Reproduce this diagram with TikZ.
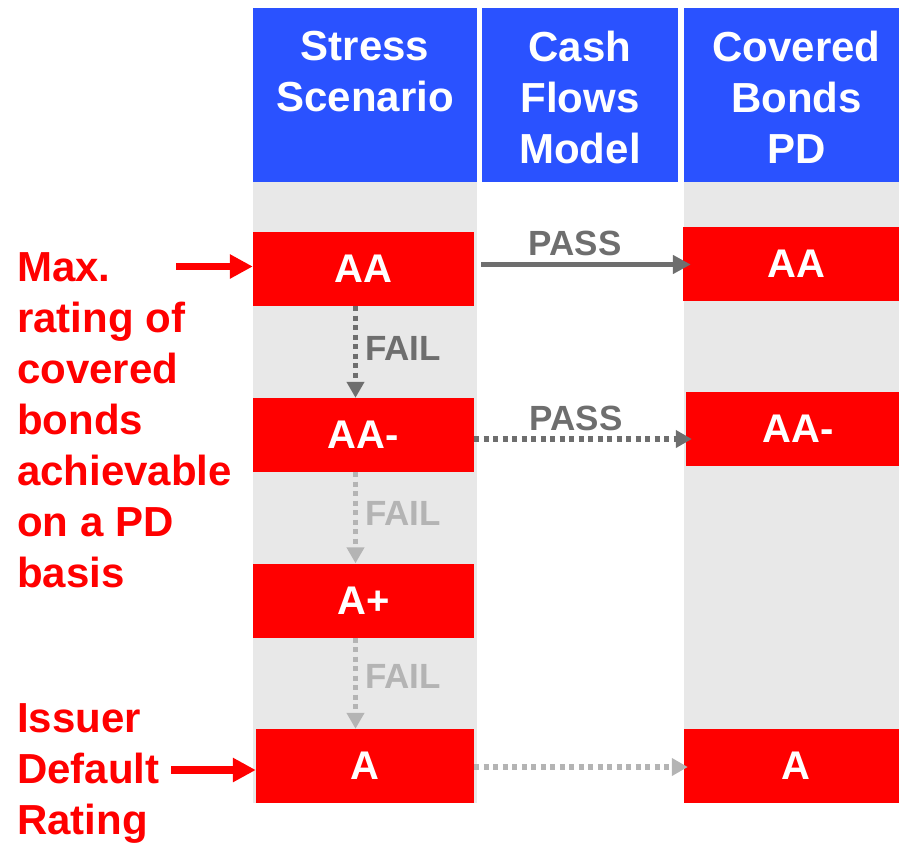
\documentclass[tikz,border=0pt]{standalone}
\usepackage{fontspec}
\setmainfont{Liberation Sans}
\usetikzlibrary{arrows.meta}
\definecolor{hdrblue}{HTML}{2A52FF}
\definecolor{rred}{HTML}{FF0000}
\definecolor{lanegray}{HTML}{E8E8E8}
\definecolor{darkarrow}{HTML}{6E6E6E}
\definecolor{lightarrow}{HTML}{B4B4B4}
\begin{document}
\begin{tikzpicture}[x=1pt,y=-1pt,
  hdrbox/.style={fill=hdrblue, draw=none, minimum height=174pt, inner sep=0pt},
  hdrtext/.style={text=white, align=center, inner sep=0pt, anchor=north,
    font=\fontsize{42}{51}\selectfont\bfseries},
  rating/.style={fill=rred, draw=none, text=white, minimum height=74pt, inner sep=0pt,
    font=\fontsize{40}{48}\selectfont\bfseries},
  sidelabel/.style={text=rred, align=left, inner sep=0pt, anchor=north west,
    font=\fontsize{42}{51}\selectfont\bfseries},
  flowlabel/.style={inner sep=0pt, font=\fontsize{35}{42}\selectfont\bfseries},
  pointer/.style={draw=rred, line width=7.5pt, -{Triangle[length=23pt,width=23pt]}},
  passline/.style={draw=darkarrow, line width=5.5pt, -{Triangle[length=18pt,width=18pt]}},
  dotline/.style={line width=5.5pt, dash pattern=on 5pt off 4.5pt,
    -{Triangle[length=16pt,width=17pt]}},
]
\useasboundingbox (0,0) rectangle (899,844);

% lanes behind the rating boxes
\fill[lanegray] (253,182) rectangle (477,803);
\fill[lanegray] (684,182) rectangle (909,803);

% column headers
\node[hdrbox, minimum width=224pt] (h1) at (365,95) {};
\node[hdrbox, minimum width=196pt] (h2) at (580,95) {};
\node[hdrbox, minimum width=225pt] (h3) at (796.5,95) {};
\node[hdrtext] (t1) at (h1.center |- 0,31) {Stress\\Scenario};
\node[hdrtext] (t2) at (h2.center |- 0,31) {Cash\\Flows\\Model};
\node[hdrtext] (t3) at (h3.center |- 0,31) {Covered\\Bonds\\PD};

% stress scenario ratings
\node[rating, minimum width=221pt] (aa)  at (363.5,269) {AA};
\node[rating, minimum width=221pt] (aam) at (363.5,435) {AA-};
\node[rating, minimum width=221pt] (ap)  at (363.5,600.5) {A+};
\node[rating, minimum width=218pt] (a)   at (365,766) {A};

% covered bonds PD ratings
\node[rating, minimum width=226pt] (paa)  at (796,263.5) {AA};
\node[rating, minimum width=224pt] (paam) at (798,429) {AA-};
\node[rating, minimum width=224pt] (pa)   at (796,766) {A};

% pass arrows
\draw[passline, shorten <=7pt, shorten >=-8pt] (aa.east |- 0,264.5) -- (paa.west |- 0,264.5);
\draw[dotline, darkarrow, shorten >=-6pt] (aam.east |- 0,439) -- (paam.west |- 0,439);
\draw[dotline, lightarrow, shorten >=-4pt] (a.east |- 0,767) -- (pa.west |- 0,767);
\node[flowlabel, text=darkarrow] (p1) at (575,243) {PASS};
\node[flowlabel, text=darkarrow] (p2) at (576,418) {PASS};

% fail arrows down the stress column
\draw[dotline, darkarrow] (355.5,0 |- aa.south) -- (355.5,0 |- aam.north);
\draw[dotline, lightarrow] (355.5,0 |- aam.south) -- (355.5,0 |- ap.north);
\draw[dotline, lightarrow] (355.5,0 |- ap.south) -- (355.5,0 |- a.north);
\node[flowlabel, text=darkarrow, anchor=west] (f1) at (365,348) {FAIL};
\node[flowlabel, text=lightarrow, anchor=west] (f2) at (365,513) {FAIL};
\node[flowlabel, text=lightarrow, anchor=west] (f3) at (365,676) {FAIL};

% side labels with pointers
\node[sidelabel] (maxlbl) at (17,252) {Max.\\rating of\\covered\\bonds\\achievable\\on a PD\\basis};
\node[sidelabel] (idrlbl) at (17,703) {Issuer\\Default\\Rating};
\coordinate (maxtail) at (176,266.5);
\coordinate (idrtail) at (171,770);
\draw[pointer] (maxtail) -- (maxtail -| aa.west);
\draw[pointer] (idrtail) -- (idrtail -| a.west);
\end{tikzpicture}
\end{document}
